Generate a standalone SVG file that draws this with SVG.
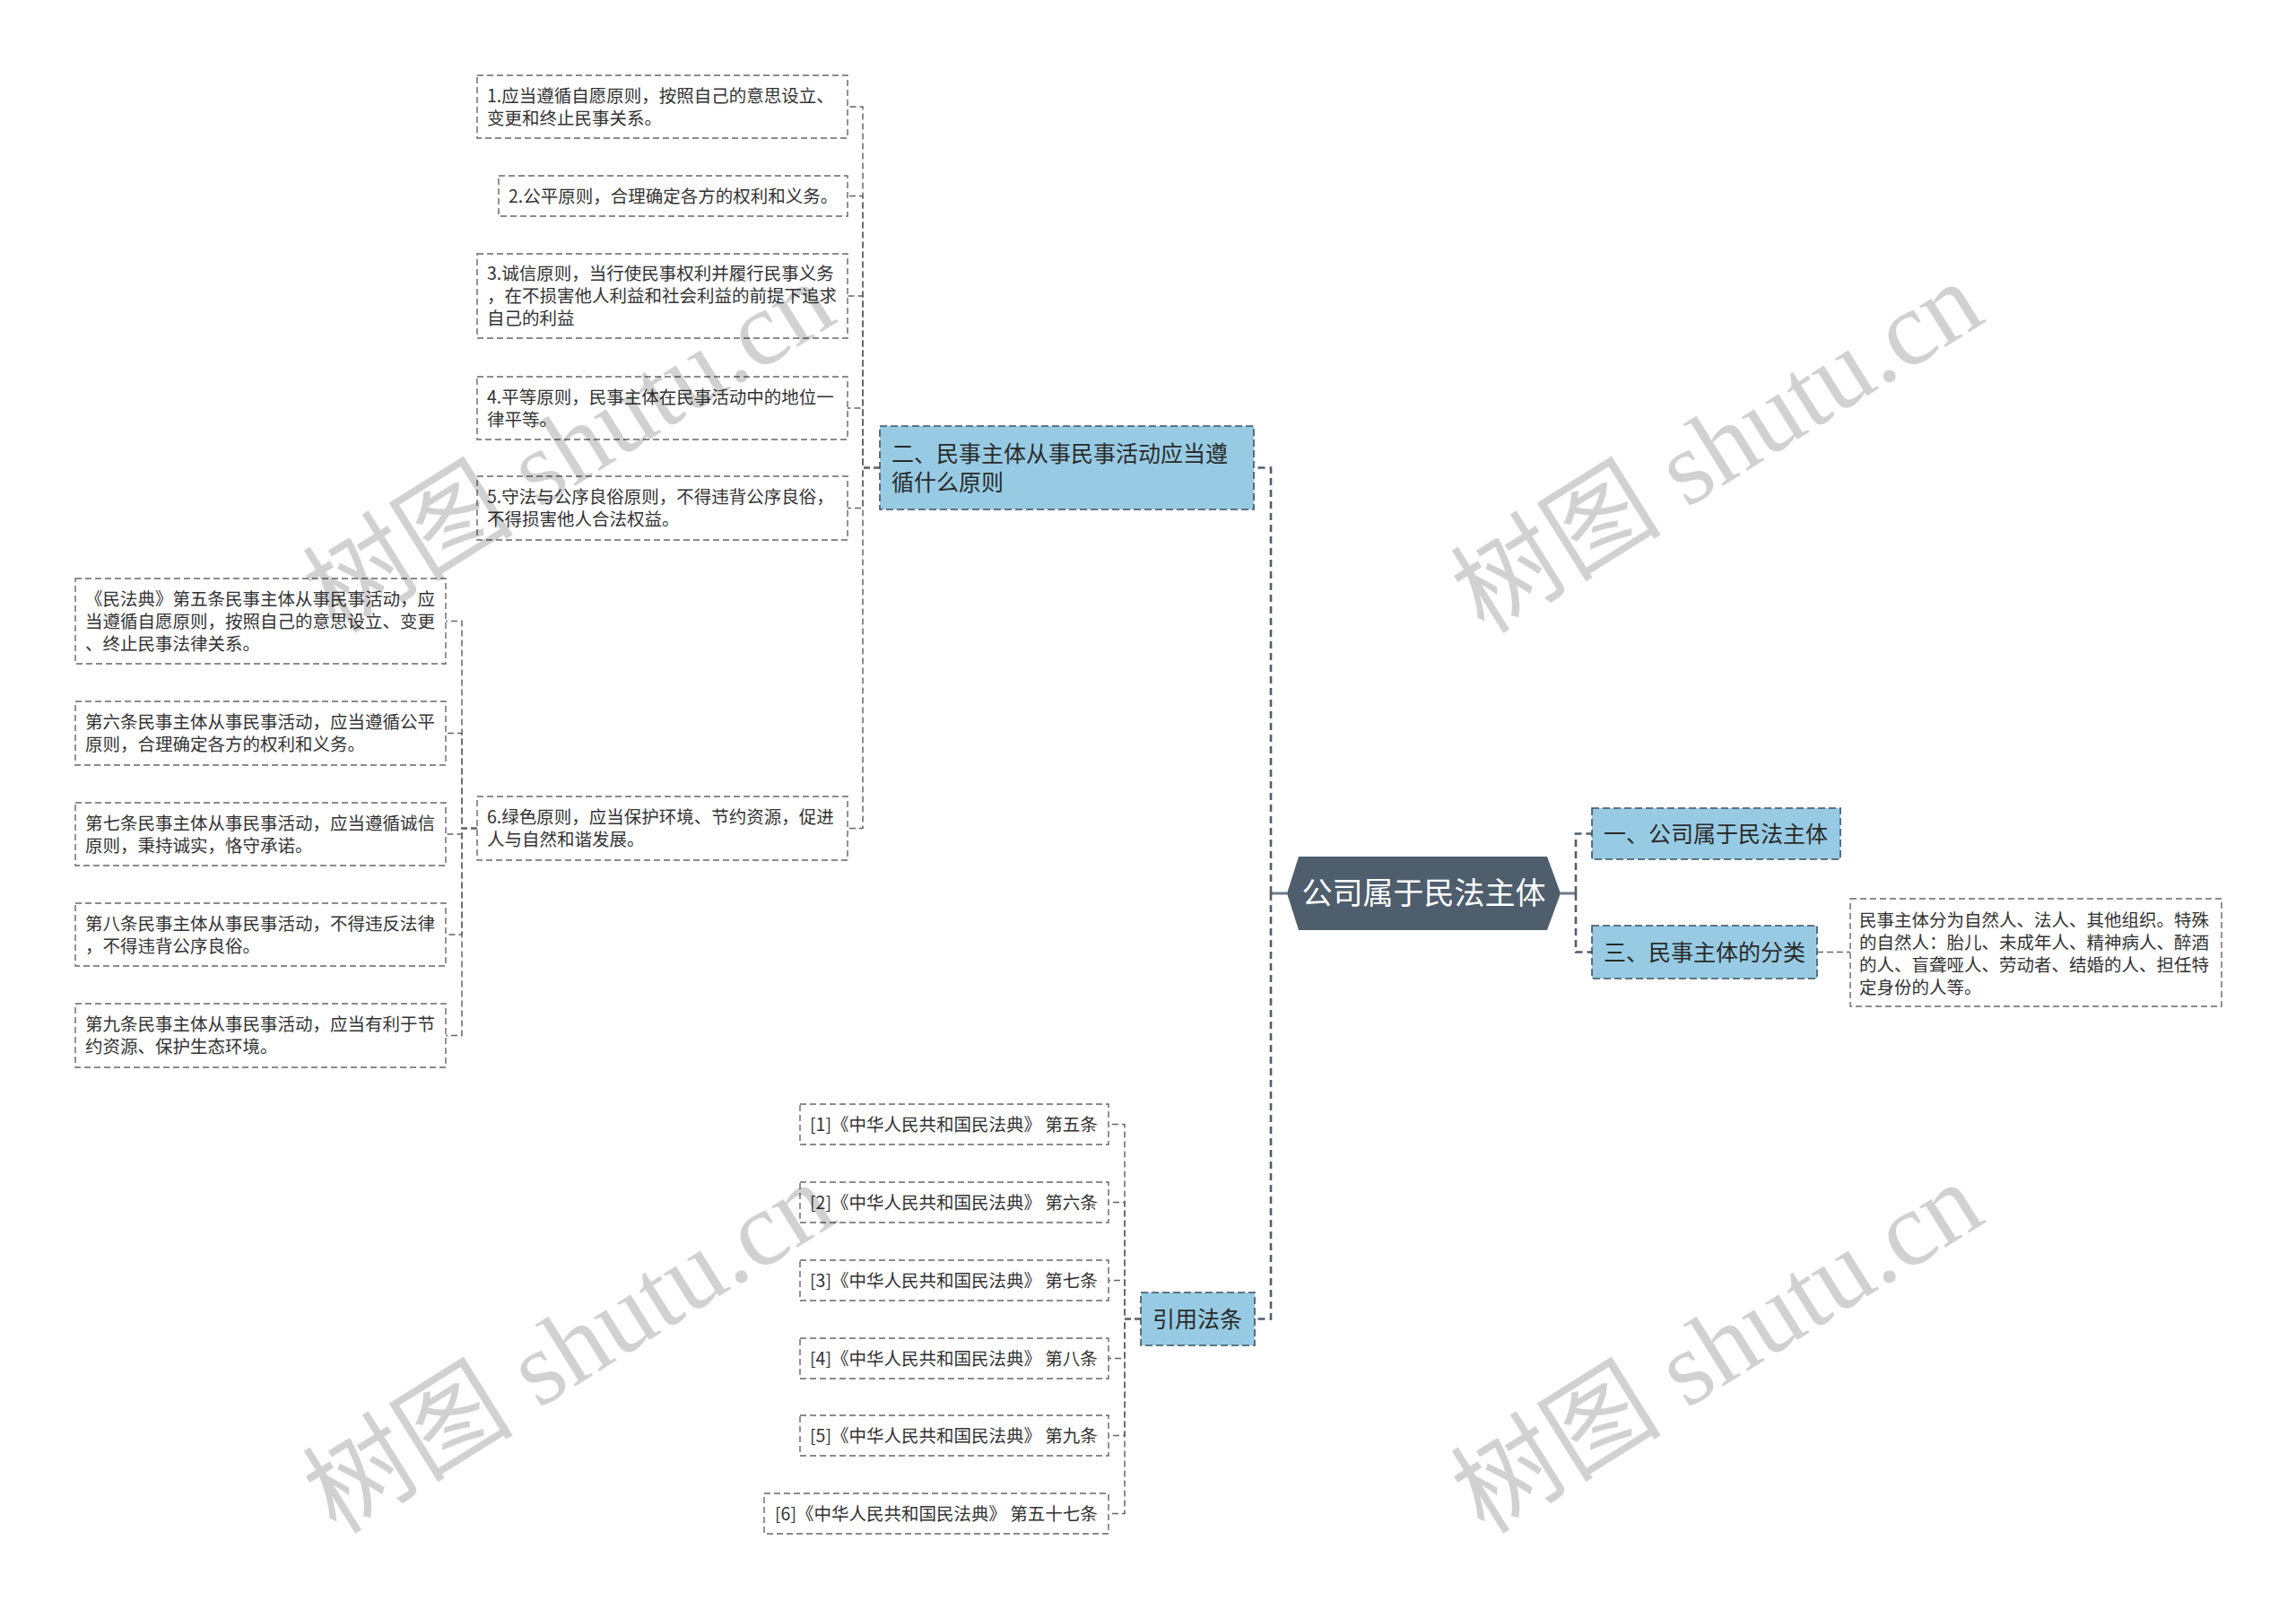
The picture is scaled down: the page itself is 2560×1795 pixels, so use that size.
<svg xmlns="http://www.w3.org/2000/svg" width="2560" height="1795" viewBox="0 0 2560 1795">
<style>
.bg{fill:#ffffff}
.leaf{fill:none;stroke:#666;stroke-width:1.4;stroke-dasharray:7 4}
.blue{fill:#97cbe3;stroke:#3f4f5f;stroke-width:1.6;stroke-dasharray:8 4}
.root{fill:#4e5e6d}
.t{font-family:"Noto Sans CJK SC","Noto Sans",sans-serif;font-size:19.5px;fill:#333}
.tb{font-family:"Noto Sans CJK SC","Noto Sans",sans-serif;font-size:25px;fill:#2a2a2a}
.tr{font-family:"Noto Sans CJK SC","Noto Sans",sans-serif;font-size:34px;fill:#ffffff;text-anchor:middle}
.c{fill:none;stroke:#666;stroke-width:1.5;stroke-dasharray:7 4}
.cm{fill:none;stroke:#4e5e6d;stroke-width:2.6;stroke-dasharray:8 5}
.cs{fill:none;stroke:#6c7b88;stroke-width:3}
.wm{font-family:"Liberation Serif","Noto Sans CJK SC",serif;font-size:118px;fill:#000;fill-opacity:0.18}
</style>
<rect class="bg" x="0" y="0" width="2560" height="1795"/>

<g id="connectors">
  <path class="cs" d="M1435 996 H1417"/>
  <path class="cm" d="M1417 996 V521.5 H1398"/>
  <path class="cm" d="M1417 996 V1470.5 H1399"/>
  <path class="cs" d="M1740 996 H1757"/>
  <path class="cm" d="M1757 996 V929.5 H1775"/>
  <path class="cm" d="M1757 996 V1061.5 H1775"/>
  <path class="c" d="M2026 1061.5 H2063"/>
  <path class="c" d="M981 521.5 H962 V119 H945"/>
  <path class="c" d="M981 521.5 H962 V218.5 H945"/>
  <path class="c" d="M981 521.5 H962 V330 H945"/>
  <path class="c" d="M981 521.5 H962 V455 H945"/>
  <path class="c" d="M981 521.5 H962 V566.5 H945"/>
  <path class="c" d="M981 521.5 H962 V923.5 H945"/>
  <path class="c" d="M532 923.5 H515 V692.5 H497"/>
  <path class="c" d="M532 923.5 H515 V817.5 H497"/>
  <path class="c" d="M532 923.5 H515 V930 H497"/>
  <path class="c" d="M532 923.5 H515 V1042 H497"/>
  <path class="c" d="M532 923.5 H515 V1154.5 H497"/>
  <path class="c" d="M1272 1470.5 H1254 V1253.5 H1236"/>
  <path class="c" d="M1272 1470.5 H1254 V1340.5 H1236"/>
  <path class="c" d="M1272 1470.5 H1254 V1427.5 H1236"/>
  <path class="c" d="M1272 1470.5 H1254 V1514.5 H1236"/>
  <path class="c" d="M1272 1470.5 H1254 V1600.5 H1236"/>
  <path class="c" d="M1272 1470.5 H1254 V1687.5 H1236"/>
</g>

<g id="root">
  <polygon class="root" points="1435,996 1448,955 1725,955 1740,996 1725,1037 1448,1037"/>
  <text class="tr" x="1587.5" y="1008">公司属于民法主体</text>
</g>

<g id="n-yi">
  <rect class="blue" x="1775" y="901" width="277" height="57"/>
  <text class="tb" x="1788" y="939">一、公司属于民法主体</text>
</g>

<g id="n-san">
  <rect class="blue" x="1775" y="1032" width="251" height="59"/>
  <text class="tb" x="1788" y="1071">三、民事主体的分类</text>
</g>

<g id="n-san-leaf">
  <rect class="leaf" x="2063" y="1002" width="414" height="120"/>
  <text class="t" x="2073" y="1032.5">民事主体分为自然人、法人、其他组织。特殊</text>
  <text class="t" x="2073" y="1057.5">的自然人：胎儿、未成年人、精神病人、醉酒</text>
  <text class="t" x="2073" y="1082.5">的人、盲聋哑人、劳动者、结婚的人、担任特</text>
  <text class="t" x="2073" y="1107.5">定身份的人等。</text>
</g>

<g id="n-er">
  <rect class="blue" x="981" y="475" width="417" height="93"/>
  <text class="tb" x="994" y="515">二、民事主体从事民事活动应当遵</text>
  <text class="tb" x="994" y="547">循什么原则</text>
</g>

<g id="p1">
  <rect class="leaf" x="532" y="84" width="413" height="70"/>
  <text class="t" x="543" y="113.5">1.应当遵循自愿原则，按照自己的意思设立、</text>
  <text class="t" x="543" y="138.5">变更和终止民事关系。</text>
</g>
<g id="p2">
  <rect class="leaf" x="556" y="196" width="389" height="45"/>
  <text class="t" x="567" y="225.5">2.公平原则，合理确定各方的权利和义务。</text>
</g>
<g id="p3">
  <rect class="leaf" x="532" y="283" width="413" height="94"/>
  <text class="t" x="543" y="312">3.诚信原则，当行使民事权利并履行民事义务</text>
  <text class="t" x="543" y="337">，在不损害他人利益和社会利益的前提下追求</text>
  <text class="t" x="543" y="362">自己的利益</text>
</g>
<g id="p4">
  <rect class="leaf" x="532" y="420" width="413" height="70"/>
  <text class="t" x="543" y="449.5">4.平等原则，民事主体在民事活动中的地位一</text>
  <text class="t" x="543" y="474.5">律平等。</text>
</g>
<g id="p5">
  <rect class="leaf" x="532" y="531" width="413" height="71"/>
  <text class="t" x="543" y="561">5.守法与公序良俗原则，不得违背公序良俗，</text>
  <text class="t" x="543" y="586">不得损害他人合法权益。</text>
</g>
<g id="p6">
  <rect class="leaf" x="532" y="888" width="413" height="71"/>
  <text class="t" x="543" y="918">6.绿色原则，应当保护环境、节约资源，促进</text>
  <text class="t" x="543" y="943">人与自然和谐发展。</text>
</g>

<g id="a1">
  <rect class="leaf" x="84" y="645" width="413" height="95"/>
  <text class="t" x="95" y="674.5">《民法典》第五条民事主体从事民事活动，应</text>
  <text class="t" x="95" y="699.5">当遵循自愿原则，按照自己的意思设立、变更</text>
  <text class="t" x="95" y="724.5">、终止民事法律关系。</text>
</g>
<g id="a2">
  <rect class="leaf" x="84" y="782" width="413" height="71"/>
  <text class="t" x="95" y="812">第六条民事主体从事民事活动，应当遵循公平</text>
  <text class="t" x="95" y="837">原则，合理确定各方的权利和义务。</text>
</g>
<g id="a3">
  <rect class="leaf" x="84" y="895" width="413" height="70"/>
  <text class="t" x="95" y="924.5">第七条民事主体从事民事活动，应当遵循诚信</text>
  <text class="t" x="95" y="949.5">原则，秉持诚实，恪守承诺。</text>
</g>
<g id="a4">
  <rect class="leaf" x="84" y="1007" width="413" height="70"/>
  <text class="t" x="95" y="1036.5">第八条民事主体从事民事活动，不得违反法律</text>
  <text class="t" x="95" y="1061.5">，不得违背公序良俗。</text>
</g>
<g id="a5">
  <rect class="leaf" x="84" y="1119" width="413" height="71"/>
  <text class="t" x="95" y="1149">第九条民事主体从事民事活动，应当有利于节</text>
  <text class="t" x="95" y="1174">约资源、保护生态环境。</text>
</g>

<g id="n-cite">
  <rect class="blue" x="1272" y="1441" width="127" height="59"/>
  <text class="tb" x="1285" y="1480">引用法条</text>
</g>

<g id="c1">
  <rect class="leaf" x="892" y="1231" width="344" height="45"/>
  <text class="t" x="903" y="1260.5">[1]《中华人民共和国民法典》 第五条</text>
</g>
<g id="c2">
  <rect class="leaf" x="892" y="1318" width="344" height="45"/>
  <text class="t" x="903" y="1347.5">[2]《中华人民共和国民法典》 第六条</text>
</g>
<g id="c3">
  <rect class="leaf" x="892" y="1405" width="344" height="45"/>
  <text class="t" x="903" y="1434.5">[3]《中华人民共和国民法典》 第七条</text>
</g>
<g id="c4">
  <rect class="leaf" x="892" y="1492" width="344" height="45"/>
  <text class="t" x="903" y="1521.5">[4]《中华人民共和国民法典》 第八条</text>
</g>
<g id="c5">
  <rect class="leaf" x="892" y="1578" width="344" height="45"/>
  <text class="t" x="903" y="1607.5">[5]《中华人民共和国民法典》 第九条</text>
</g>
<g id="c6">
  <rect class="leaf" x="852" y="1665" width="384" height="45"/>
  <text class="t" x="864" y="1694.5">[6]《中华人民共和国民法典》 第五十七条</text>
</g>

<g id="watermarks">
  <text class="wm" x="375" y="708" transform="rotate(-32 375 708)">树图 shutu.cn</text>
  <text class="wm" x="1655" y="708" transform="rotate(-32 1655 708)">树图 shutu.cn</text>
  <text class="wm" x="375" y="1712" transform="rotate(-32 375 1712)">树图 shutu.cn</text>
  <text class="wm" x="1655" y="1712" transform="rotate(-32 1655 1712)">树图 shutu.cn</text>
</g>
</svg>
